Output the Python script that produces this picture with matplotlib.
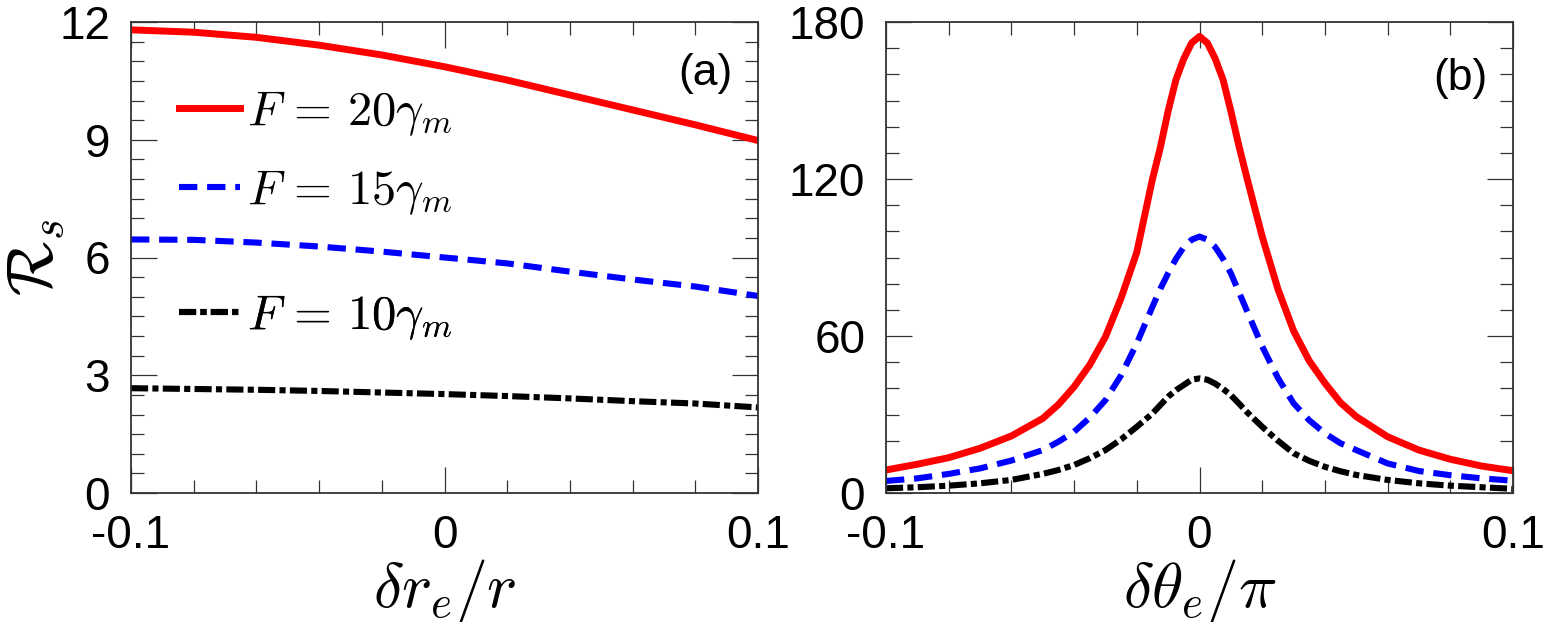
#!/usr/bin/env python3
"""
Two-panel figure: R_s versus radial (a) and angular (b) deviation
for three driving strengths F.
"""

import matplotlib
matplotlib.use("Agg")
import matplotlib.pyplot as plt
from matplotlib.ticker import MultipleLocator

plt.rcParams["font.family"] = ["Liberation Sans", "DejaVu Sans"]
plt.rcParams["mathtext.fontset"] = "cm"

# Panel (a): delta r_e / r
x_a = [-0.1, -0.08, -0.06, -0.04, -0.02, 0.0, 0.02, 0.04, 0.06, 0.08, 0.1]
f20_a = [11.80, 11.74, 11.61, 11.41, 11.16, 10.86, 10.52, 10.14, 9.76, 9.38, 8.98]
f15_a = [6.46, 6.45, 6.38, 6.28, 6.15, 6.00, 5.85, 5.64, 5.44, 5.26, 5.02]
f10_a = [2.67, 2.65, 2.63, 2.60, 2.56, 2.52, 2.47, 2.41, 2.34, 2.28, 2.18]

# Panel (b): delta theta_e / pi
x_b = [-0.1, -0.09, -0.08, -0.07, -0.06, -0.05, -0.045, -0.04, -0.035, -0.03,
       -0.025, -0.02, -0.015, -0.0125, -0.01, -0.0075, -0.005, -0.0025, 0.0,
       0.0025, 0.005, 0.0075, 0.01, 0.0125, 0.015, 0.02, 0.025, 0.03, 0.035,
       0.04, 0.045, 0.05, 0.06, 0.07, 0.08, 0.09, 0.1]
f20_b = [8.8, 11.0, 13.5, 17.1, 21.8, 28.5, 33.8, 40.6, 49.0, 59.7,
         74.5, 92.0, 120.0, 132.0, 146.0, 158.0, 166.0, 172.0, 174.5,
         172.0, 166.0, 158.0, 146.0, 133.0, 121.0, 98.0, 78.0, 62.0, 50.5,
         42.0, 34.5, 29.2, 21.5, 16.4, 12.9, 10.3, 8.5]
f15_b = [4.6, 5.6, 7.3, 9.4, 12.4, 16.4, 19.6, 23.4, 28.8, 35.5,
         45.0, 57.2, 71.2, 78.0, 84.0, 89.5, 94.0, 96.8, 98.0,
         96.8, 94.0, 89.5, 84.0, 77.0, 70.0, 56.0, 44.0, 34.3, 27.8,
         22.8, 19.0, 16.4, 11.3, 8.4, 6.8, 5.6, 4.7]
f10_b = [1.8, 2.2, 2.8, 3.7, 5.0, 7.3, 8.8, 10.7, 13.3, 16.4,
         20.5, 25.3, 30.4, 33.6, 36.8, 39.3, 41.3, 43.3, 43.8,
         43.3, 41.8, 39.8, 37.4, 34.3, 31.1, 25.3, 20.0, 15.2, 12.3,
         10.0, 8.3, 6.9, 5.0, 3.7, 2.8, 2.2, 1.6]

LABELS = [r"$F\,=\,20\gamma_m$", r"$F\,=\,15\gamma_m$", r"$F\,=\,10\gamma_m$"]
X_TICKS = [-0.1, 0.0, 0.1]
X_TICKLABELS = ["-0.1", "0", "0.1"]
Y_TICKS_A = [0, 3, 6, 9, 12]
Y_TICKS_B = [0, 60, 120, 180]

SPINE = "#333333"
TICK_FS = 33
LABEL_FS = 46
LEGEND_FS = 35

styles = [
    dict(color="#ff0000", linewidth=5.0, linestyle="-"),
    dict(color="#0000ff", linewidth=4.4, linestyle=(0, (3.0, 1.6))),
    dict(color="#000000", linewidth=4.4, linestyle=(0, (2.8, 0.7, 1.0, 0.7))),
]


def style_axes(ax, yticks, ymax, yminor):
    ax.set_xlim(-0.1, 0.1)
    ax.set_ylim(0, ymax)
    ax.set_xticks(X_TICKS, X_TICKLABELS)
    ax.set_yticks(yticks, [str(t) for t in yticks])
    ax.xaxis.set_minor_locator(MultipleLocator(0.02))
    ax.yaxis.set_minor_locator(MultipleLocator(yminor))
    ax.tick_params(which="both", direction="in", top=True, right=True,
                   color=SPINE, width=0.9, labelsize=TICK_FS)
    ax.tick_params(axis="x", which="major", pad=15)
    ax.tick_params(axis="y", which="major", pad=15)
    ax.tick_params(which="major", length=18.5)
    ax.tick_params(which="minor", length=9.4)
    for sp in ax.spines.values():
        sp.set_color(SPINE)
        sp.set_linewidth(1.3)


fig = plt.figure(figsize=(15.52, 6.22), dpi=100)
ax_a = fig.add_axes([131 / 1552, 129 / 622, 627 / 1552, 471 / 622])
ax_b = fig.add_axes([886 / 1552, 129 / 622, 627 / 1552, 471 / 622])

lines_a = []
for ys, st in zip([f20_a, f15_a, f10_a], styles):
    ln, = ax_a.plot(x_a, ys, **st)
    lines_a.append(ln)

for ys, st in zip([f20_b, f15_b, f10_b], styles):
    ax_b.plot(x_b, ys, **st)

style_axes(ax_a, Y_TICKS_A, 12, 0.5)
style_axes(ax_b, Y_TICKS_B, 180, 10)

ax_a.set_xlabel(r"$\delta r_e/r$", fontsize=LABEL_FS)
ax_b.set_xlabel(r"$\delta\theta_e/\pi$", fontsize=LABEL_FS)
ax_a.set_ylabel(r"$\mathcal{R}_s$", fontsize=LABEL_FS)
ax_a.xaxis.set_label_coords(0.5, -0.135)
ax_b.xaxis.set_label_coords(0.5, -0.135)
ax_a.yaxis.set_label_coords(-0.10, 0.5)

ax_a.text(0.96, 0.89, "(a)", transform=ax_a.transAxes, ha="right",
          va="center", fontsize=32)
ax_b.text(0.96, 0.88, "(b)", transform=ax_b.transAxes, ha="right",
          va="center", fontsize=32)

# one legend per entry, rows are not evenly spaced in the original
legend_y = [0.805, 0.637, 0.372]
for ln, lab, yy in zip(lines_a, LABELS, legend_y):
    leg = ax_a.legend(handles=[ln], labels=[lab], loc="center left",
                      bbox_to_anchor=(0.0766, yy), frameon=False,
                      fontsize=LEGEND_FS, handlelength=1.25,
                      handletextpad=0.15, borderpad=0, borderaxespad=0)
    ax_a.add_artist(leg)

fig.savefig("out.png", dpi=100)
